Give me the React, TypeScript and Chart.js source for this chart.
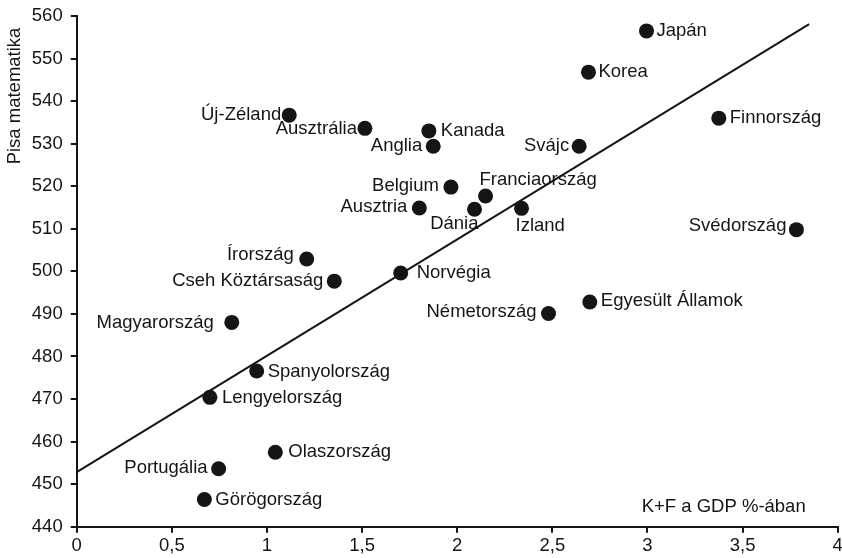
import React, { useEffect, useRef } from "react";
import { Chart, registerables } from "chart.js";

Chart.register(...registerables);

// ---- Data ----
const countries = [
  "Japán", "Korea", "Finnország", "Új-Zéland", "Ausztrália", "Kanada", "Anglia",
  "Svájc", "Belgium", "Franciaország", "Ausztria", "Dánia", "Izland", "Svédország",
  "Írország", "Cseh Köztársaság", "Norvégia", "Németország", "Egyesült Államok",
  "Magyarország", "Spanyolország", "Lengyelország", "Olaszország", "Portugália", "Görögország",
];
const rdShareGdp = [
  2.995, 2.69, 3.375, 1.117, 1.515, 1.851, 1.874,
  2.641, 1.967, 2.149, 1.801, 2.091, 2.338, 3.783,
  1.209, 1.354, 1.703, 2.48, 2.697,
  0.815, 0.946, 0.7, 1.044, 0.746, 0.671,
];
const pisaMath = [
  556.5, 546.8, 536.0, 536.7, 533.6, 533.0, 529.4,
  529.4, 519.8, 517.7, 514.9, 514.6, 514.8, 509.8,
  502.9, 497.7, 499.6, 490.1, 492.8,
  488.0, 476.6, 470.4, 457.5, 453.6, 446.4,
];
const trendX = [0, 3.85];
const trendY = [452.8, 558.1];
const xTickValues = [0, 0.5, 1, 1.5, 2, 2.5, 3, 3.5, 4];
const xTickLabels = ["0", "0,5", "1", "1,5", "2", "2,5", "3", "3,5", "4"];
const yMin = 440;
const yMax = 560;
const yStep = 10;
const yTitle = "Pisa matematika";
const xTitle = "K+F a GDP %-ában";

// ---- Label placement (style: pixel offsets from marker) ----
const labelPlacement: [number, number, CanvasTextAlign][] = [
  [10, 0, "left"], [10, 0, "left"], [11, 0, "left"], [-8, 0, "right"], [-8, 1, "right"],
  [12, 0, "left"], [-11, 0, "right"], [-10, 0, "right"], [-12, -1, "right"], [-6, -16, "left"],
  [-12, -1, "right"], [4, 15, "right"], [-6, 18, "left"], [-10, -4, "right"], [-13, -4, "right"],
  [-11, 0, "right"], [16, 0, "left"], [-12, -2, "right"], [11, -1, "left"], [-18, 0, "right"],
  [11, 1, "left"], [12, 1, "left"], [13, 0, "left"], [-11, -1, "right"], [11, 0, "left"],
];

const FONT = "'Liberation Sans', Arial, sans-serif";
const INK = "#151515";
const FS = 18.5;

const labelsPlugin = {
  id: "pointLabels",
  afterDatasetsDraw(chart: any) {
    const ctx = chart.ctx;
    const meta = chart.getDatasetMeta(1);
    ctx.save();
    ctx.font = `${FS}px ${FONT}`;
    ctx.fillStyle = INK;
    ctx.textBaseline = "middle";
    meta.data.forEach((pt: any, i: number) => {
      const [dx, dy, align] = labelPlacement[i];
      ctx.textAlign = align;
      ctx.fillText(countries[i], pt.x + dx, pt.y + dy);
    });
    ctx.restore();
  },
  afterDraw(chart: any) {
    const ctx = chart.ctx;
    const area = chart.chartArea;
    ctx.save();
    ctx.fillStyle = INK;
    ctx.font = `${FS}px ${FONT}`;
    ctx.textAlign = "right";
    ctx.textBaseline = "alphabetic";
    ctx.fillText(xTitle, area.right - 32, area.bottom - 15);
    ctx.translate(15, area.top + 80);
    ctx.rotate(-Math.PI / 2);
    ctx.textAlign = "center";
    ctx.textBaseline = "middle";
    ctx.fillText(yTitle, 0, 0);
    ctx.restore();
  },
};

export default function App() {
  const ref = useRef<HTMLCanvasElement | null>(null);

  useEffect(() => {
    document.body.style.margin = "0";
    const canvas = ref.current;
    if (!canvas) return;
    const points = rdShareGdp.map((x, i) => ({ x, y: pisaMath[i] }));
    const trend = trendX.map((x, i) => ({ x, y: trendY[i] }));
    const axisCommon = {
      border: { display: true, color: INK, width: 2 },
      grid: {
        display: true,
        drawOnChartArea: false,
        drawTicks: true,
        tickLength: 6,
        color: INK,
        lineWidth: 2,
      },
    };
    const chart = new Chart(canvas, {
      type: "scatter",
      data: {
        datasets: [
          {
            type: "line",
            data: trend,
            borderColor: INK,
            borderWidth: 2,
            pointRadius: 0,
            showLine: true,
            fill: false,
          } as any,
          {
            data: points,
            backgroundColor: INK,
            borderWidth: 0,
            pointRadius: 7.5,
            pointHoverRadius: 7.5,
          },
        ],
      },
      options: {
        responsive: false,
        animation: false,
        events: [],
        layout: { autoPadding: false, padding: { left: 0, top: 16, right: 4.3, bottom: 0 } },
        plugins: {
          legend: { display: false },
          tooltip: { enabled: false },
        },
        scales: {
          x: {
            type: "linear",
            min: 0,
            max: 4,
            ...axisCommon,
            afterBuildTicks: (s: any) => {
              s.ticks = xTickValues.map((v) => ({ value: v }));
            },
            afterFit: (s: any) => {
              s.height = 31.3;
              s.paddingLeft = 0;
              s.paddingRight = 0;
              s.paddingTop = 0;
              s.paddingBottom = 0;
            },
            ticks: {
              autoSkip: false,
              maxRotation: 0,
              padding: 2,
              color: INK,
              font: { family: FONT, size: FS },
              callback: (v: any) => {
                const i = xTickValues.indexOf(Number(v));
                return i >= 0 ? xTickLabels[i] : "";
              },
            },
          },
          y: {
            type: "linear",
            min: yMin,
            max: yMax,
            ...axisCommon,
            afterFit: (s: any) => {
              s.width = 76.7;
              s.paddingLeft = 0;
              s.paddingRight = 0;
              s.paddingTop = 0;
              s.paddingBottom = 0;
            },
            ticks: {
              stepSize: yStep,
              padding: 8,
              color: INK,
              font: { family: FONT, size: FS },
            },
          },
        },
      } as any,
      plugins: [labelsPlugin],
    });
    return () => chart.destroy();
  }, []);

  return (
    <div style={{ width: 842, height: 558, background: "#fff" }}>
      <canvas ref={ref} width={842} height={558} style={{ display: "block" }} />
    </div>
  );
}
